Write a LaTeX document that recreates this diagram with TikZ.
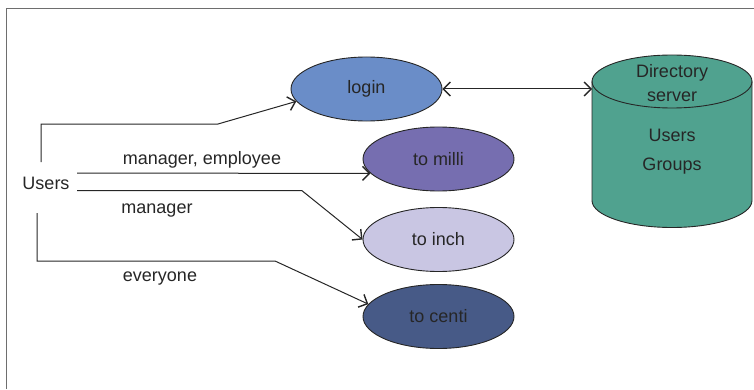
\documentclass[tikz,border=0pt]{standalone}
\usepackage{fontspec}
\setmainfont{Liberation Sans}
\usetikzlibrary{shapes.geometric,arrows.meta}

\definecolor{inkdark}{HTML}{262626}
\definecolor{framegray}{HTML}{6E6E6E}
\definecolor{loginblue}{HTML}{6A8DC8}
\definecolor{millipurple}{HTML}{766EB0}
\definecolor{inchlilac}{HTML}{C9C6E3}
\definecolor{centinavy}{HTML}{475A87}
\definecolor{serverteal}{HTML}{50A28F}

\tikzset{
  oval/.style={ellipse, draw=inkdark, line width=0.9pt, minimum width=151pt,
    minimum height=64pt, inner sep=0pt, text=inkdark, font=\fontsize{18}{20}\selectfont},
  lbl/.style={text=inkdark, font=\fontsize{18}{20}\selectfont, inner sep=0pt},
  conn/.style={draw=inkdark, line width=1pt},
  barb/.tip={Straight Barb[length=7pt,width=14pt,line width=1.4pt]},
  tip/.style={-barb},
  dtip/.style={barb-barb}
}

\begin{document}
\begin{tikzpicture}[x=1pt,y=1pt]
  \useasboundingbox (0,0) rectangle (754,389);

  % outer frame (top and left edges)
  \draw[framegray, line width=1pt] (6,0) -- (6,380) -- (754,380);

  % directory server drawn as a cylinder
  \fill[serverteal] (592,307.5) -- (592,188.5) arc (180:360:80 and 27)
    -- (752,307.5) arc (0:180:80 and 26.5) -- cycle;
  \draw[inkdark, line width=0.9pt] (592,307.5) -- (592,188.5) arc (180:360:80 and 27)
    -- (752,307.5);
  \draw[inkdark, line width=0.9pt] (672,307.5) ellipse (80 and 26.5);
  \node[lbl] (dir1) at (672,316) {Directory};
  \node[lbl] (dir2) at (672,292) {server};
  \node[lbl] (dir3) at (672,254) {Users};
  \node[lbl] (dir4) at (672,223) {Groups};
  \coordinate (serverin) at (592,300);

  % services
  \node[oval, fill=loginblue]   (login) at (366.5,300)  {login};
  \node[oval, fill=millipurple] (milli) at (438.5,230)  {to milli};
  \node[oval, fill=inchlilac]   (inch)  at (438.5,149.5){to inch};
  \node[oval, fill=centinavy]   (centi) at (438.5,72.5) {to centi};

  % users
  \node[lbl] (users) at (46,206) {Users};

  % connector corners and free ends
  \coordinate (a0) at (41,227);
  \coordinate (a1) at (41,265);
  \coordinate (a2) at (218,265);
  \coordinate (b0) at (77,216);
  \coordinate (c0) at (77,198.3);
  \coordinate (c1) at (302,198.3);
  \coordinate (d0) at (37,176);
  \coordinate (d1) at (37,128);
  \coordinate (d2) at (275,128);

  \draw[conn, tip] (a0) -- (a1) -- (a2) -- (login.190);
  \draw[conn, tip] (b0) -- (milli.192);
  \draw[conn, tip] (c0) -- (c1) -- (inch.west);
  \draw[conn, tip] (d0) -- (d1) -- (d2) -- (centi.170);
  \draw[conn, dtip] (login.east) -- (serverin);

  % connector labels
  \node[lbl] (lme) at (202,229) {manager, employee};
  \node[lbl] (lm)  at (157,178) {manager};
  \node[lbl] (le)  at (160,110) {everyone};
\end{tikzpicture}
\end{document}
